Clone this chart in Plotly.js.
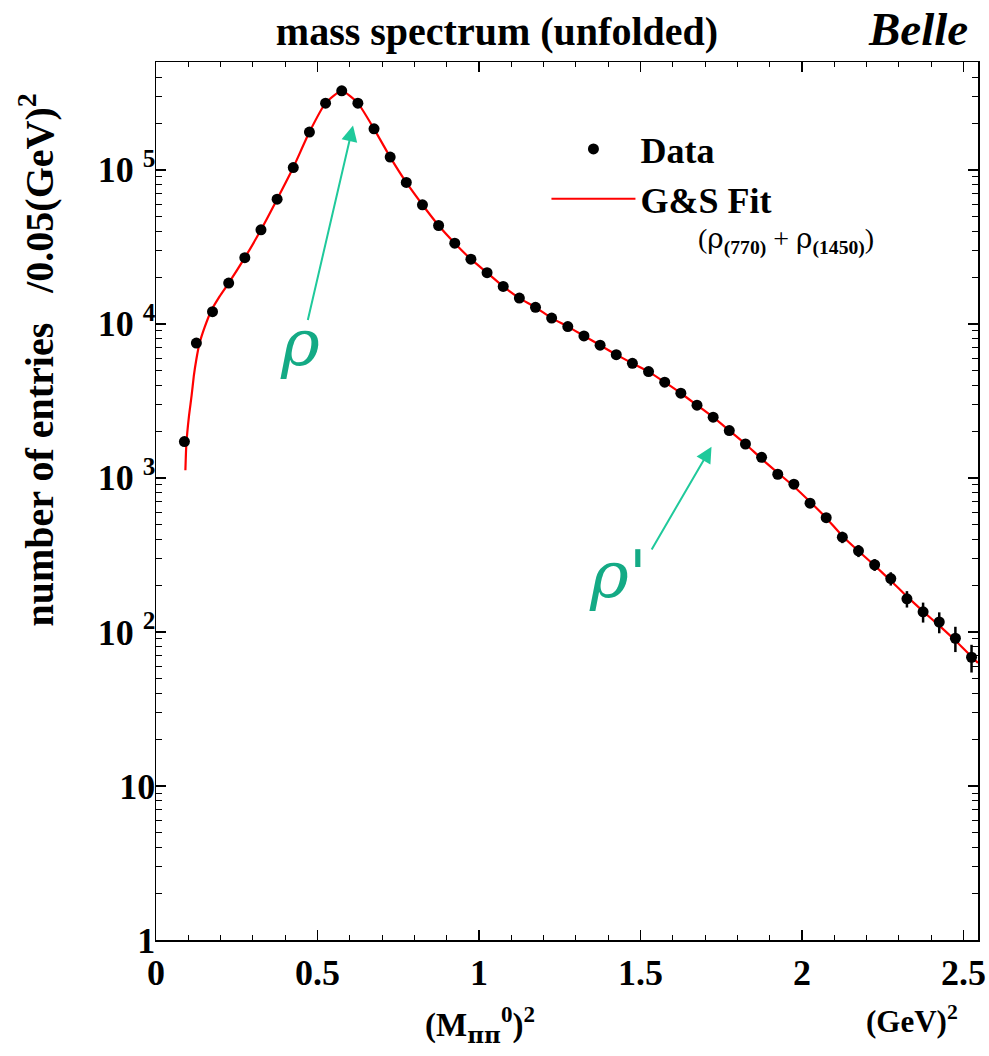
<!DOCTYPE html>
<html>
<head>
<meta charset="utf-8">
<script src="https://cdn.plot.ly/plotly-3.0.1.min.js"></script>
<style>html,body{margin:0;padding:0;background:#fff;}</style>
</head>
<body>
<div id="chart" style="width:989px;height:1056px;"></div>
<script>
// ---- data ----
const dataX = [0.088, 0.125, 0.175, 0.225, 0.275, 0.325, 0.375, 0.425, 0.475, 0.525,
  0.575, 0.625, 0.675, 0.725, 0.775, 0.825, 0.875, 0.925, 0.975, 1.025,
  1.075, 1.125, 1.175, 1.225, 1.275, 1.325, 1.375, 1.425, 1.475, 1.525,
  1.575, 1.625, 1.675, 1.725, 1.775, 1.825, 1.875, 1.925, 1.975, 2.025,
  2.075, 2.125, 2.175, 2.225, 2.275, 2.325, 2.375, 2.425, 2.475, 2.525];
const dataY = [1720, 7500, 12000, 18400, 26900, 40800, 64500, 103500, 175800, 271000,
  326000, 271000, 184500, 121000, 82800, 59300, 43500, 33400, 26300, 21500,
  17500, 14700, 12800, 10900, 9600, 8350, 7270, 6310, 5545, 4900,
  4180, 3545, 2965, 2477, 2029, 1660, 1360, 1056, 910, 685,
  552, 412, 336, 273, 222, 164, 135, 116, 91, 68.5];
const dataErr = [60, 180, 230, 280, 340, 420, 540, 700, 950, 1200,
  1300, 1200, 950, 750, 600, 480, 400, 340, 300, 270,
  240, 220, 200, 190, 170, 160, 150, 140, 130, 120,
  110, 100, 95, 90, 80, 70, 65, 55, 50, 45,
  40, 35, 30, 24, 22, 20, 20, 18, 17, 14];

const fitX = [0.091, 0.094, 0.102, 0.110, 0.117, 0.125, 0.135, 0.151, 0.172, 0.197,
  0.225, 0.275, 0.325, 0.375, 0.425, 0.475, 0.525, 0.575, 0.625, 0.675,
  0.725, 0.775, 0.825, 0.875, 0.925, 0.975, 1.025, 1.075, 1.125, 1.175,
  1.225, 1.275, 1.325, 1.375, 1.425, 1.475, 1.525, 1.575, 1.625, 1.675,
  1.725, 1.775, 1.825, 1.875, 1.925, 1.975, 2.025, 2.075, 2.125, 2.175,
  2.225, 2.275, 2.325, 2.375, 2.425, 2.475, 2.525, 2.545];
const fitY = [1120, 1660, 2510, 3390, 4570, 5890, 7500, 9550, 12300, 15100,
  18400, 26900, 40800, 64500, 103500, 175800, 271000, 326000, 271000, 184500,
  121000, 82800, 59300, 43500, 33400, 26300, 21500, 17500, 14700, 12800,
  10900, 9600, 8350, 7270, 6310, 5545, 4900, 4180, 3545, 2965,
  2477, 2029, 1660, 1330, 1080, 880, 700, 550, 420, 335,
  270, 215, 170, 136, 110, 88, 69, 63];

const xTickVals = [0, 0.5, 1, 1.5, 2, 2.5];
const xTickText = ['0', '0.5', '1', '1.5', '2', '2.5'];
const yTickVals = [1, 10, 100, 1000, 10000, 100000];
const yTickText = ['1', '10', '10 <sup>2</sup>', '10 <sup>3</sup>', '10 <sup>4</sup>', '10 <sup>5</sup>'];

const serif = 'Liberation Serif, Times New Roman, serif';
const greek = 'DejaVu Serif';
const arrowCol = '#1fc99b';
const rhoCol = '#14aa85';
const g = s => '<span style="font-family:\'DejaVu Serif\'">' + s + '</span>';

const traces = [
  {
    x: fitX, y: fitY, type: 'scatter', mode: 'lines', name: 'G&S Fit',
    line: {color: '#ff0000', width: 2.2, shape: 'spline', smoothing: 0.5},
    legendrank: 2
  },
  {
    x: dataX, y: dataY, type: 'scatter', mode: 'markers', name: 'Data',
    marker: {color: '#000000', size: 11, symbol: 'circle'},
    error_y: {type: 'data', array: dataErr, color: '#000000', thickness: 2.5, width: 0},
    legendrank: 1
  }
];

const layout = {
  width: 989, height: 1056,
  margin: {l: 156, r: 11, t: 62, b: 116},
  paper_bgcolor: '#ffffff', plot_bgcolor: '#ffffff',
  font: {family: serif, color: '#000000'},
  title: {
    text: 'mass spectrum (unfolded)',
    font: {family: serif, size: 40, weight: 'bold', color: '#000'},
    x: 0.5025, xanchor: 'center', xref: 'container',
    y: 0.971, yanchor: 'middle', yref: 'container'
  },
  showlegend: true,
  legend: {
    x: 0.475, y: 0.935, xanchor: 'left', yanchor: 'top',
    bgcolor: 'rgba(0,0,0,0)', borderwidth: 0,
    font: {family: serif, size: 36, weight: 'bold', color: '#000'},
    itemwidth: 84, tracegroupgap: 12
  },
  xaxis: {
    range: [0, 2.545],
    tickmode: 'array', tickvals: xTickVals, ticktext: xTickText,
    ticks: 'inside', ticklen: 10, tickwidth: 1.5, tickcolor: '#000',
    minor: {dtick: 0.1, ticks: 'inside', ticklen: 5, tickwidth: 1, tickcolor: '#000', showgrid: false},
    showline: true, linecolor: '#000', linewidth: 1.5, mirror: 'allticks',
    showgrid: false, zeroline: false,
    tickfont: {family: serif, size: 36, weight: 'bold', color: '#000'}
  },
  yaxis: {
    type: 'log', range: [0, 5.70],
    tickmode: 'array', tickvals: yTickVals, ticktext: yTickText,
    ticks: 'inside', ticklen: 10, tickwidth: 1.5, tickcolor: '#000',
    ticklabelstandoff: -8,
    minor: {dtick: 'D1', ticks: 'inside', ticklen: 6, tickwidth: 1, tickcolor: '#000', showgrid: false},
    showline: true, linecolor: '#000', linewidth: 1.5, mirror: 'allticks',
    showgrid: false, zeroline: false,
    tickfont: {family: serif, size: 36, weight: 'bold', color: '#000'}
  },
  annotations: [
    {xref: 'paper', yref: 'paper', x: 0.927, y: 1.038, xanchor: 'center', yanchor: 'middle',
     text: '<b><i>Belle</i></b>', showarrow: false, font: {family: serif, size: 47, color: '#000'}},
    {xref: 'paper', yref: 'paper', x: -0.145, y: 0.661, xanchor: 'center', yanchor: 'middle',
     textangle: -90, showarrow: false,
     text: '<b>number of entries\u00a0\u00a0\u00a0/0.05(GeV)<sup>2</sup></b>',
     font: {family: serif, size: 40, color: '#000'}},
    {xref: 'paper', yref: 'paper', x: 0.394, y: -0.0968, xanchor: 'center', yanchor: 'middle',
     showarrow: false, text: '<b>(M<sub>' + g('ππ') + '</sub><sup>0</sup>)<sup>2</sup></b>',
     font: {family: serif, size: 33, color: '#000'}},
    {xref: 'paper', yref: 'paper', x: 0.920, y: -0.091, xanchor: 'center', yanchor: 'middle',
     showarrow: false, text: '<b>(GeV)<sup>2</sup></b>',
     font: {family: serif, size: 31, color: '#000'}},
    {xref: 'paper', yref: 'paper', x: 0.767, y: 0.797, xanchor: 'center', yanchor: 'middle',
     showarrow: false, text: '(' + g('ρ') + '<sub><b>(770)</b></sub> + ' + g('ρ') + '<sub><b>(1450)</b></sub>)',
     font: {family: serif, size: 28, color: '#000'}},
    // rho arrow
    {xref: 'x', yref: 'y', x: 0.610, y: 5.288, axref: 'x', ayref: 'y', ax: 0.469, ay: 4.015,
     text: '', showarrow: true, arrowhead: 2, arrowsize: 1.6, arrowwidth: 2, arrowcolor: arrowCol},
    {xref: 'x', yref: 'y', x: 0.445, y: 3.88, xanchor: 'center', yanchor: 'middle',
     text: '<i>ρ</i>', showarrow: false, font: {family: greek, size: 66, color: rhoCol}},
    // rho' arrow
    {xref: 'x', yref: 'y', x: 1.720, y: 3.203, axref: 'x', ayref: 'y', ax: 1.532, ay: 2.526,
     text: '', showarrow: true, arrowhead: 2, arrowsize: 1.6, arrowwidth: 2, arrowcolor: arrowCol},
    {xref: 'x', yref: 'y', x: 1.43, y: 2.37, xanchor: 'center', yanchor: 'middle',
     text: "<i>ρ'</i>", showarrow: false, font: {family: greek, size: 66, color: rhoCol}}
  ]
};

Plotly.newPlot('chart', traces, layout, {staticPlot: true, displayModeBar: false});
</script>
</body>
</html>
